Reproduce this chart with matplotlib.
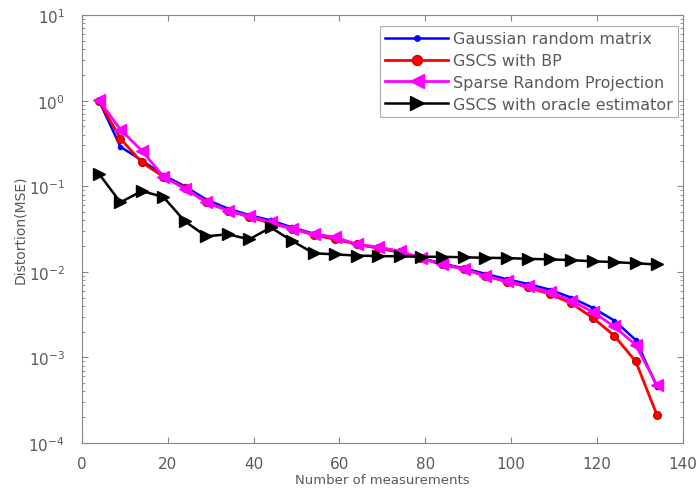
#!/usr/bin/env python3
"""Distortion (MSE) versus number of measurements for four sensing schemes."""
import matplotlib
matplotlib.use("Agg")
import matplotlib.pyplot as plt
from matplotlib.ticker import LogLocator, NullFormatter

plt.rcParams["font.family"] = ["DejaVu Sans"]

# number of measurements
measurements = [4, 9, 14, 19, 24, 29, 34, 39, 44, 49, 54, 59, 64, 69,
                74, 79, 84, 89, 94, 99, 104, 109, 114, 119, 124, 129, 134]

gaussian = [1.0, 0.29, 0.20, 0.135, 0.10, 0.07, 0.055, 0.046, 0.040, 0.033,
            0.028, 0.025, 0.021, 0.019, 0.017, 0.0145, 0.0125, 0.011, 0.0095,
            0.0082, 0.0072, 0.0062, 0.0050, 0.0038, 0.0027, 0.0016, 0.00045]

gscs_bp = [1.0, 0.36, 0.19, 0.13, 0.095, 0.065, 0.052, 0.044, 0.037, 0.032,
           0.027, 0.024, 0.021, 0.019, 0.017, 0.0145, 0.0122, 0.0108, 0.0090,
           0.0077, 0.0066, 0.0055, 0.0043, 0.0029, 0.0018, 0.0009, 0.00021]

sparse_rp = [1.02, 0.46, 0.26, 0.13, 0.094, 0.066, 0.052, 0.045, 0.038, 0.032,
             0.0275, 0.0255, 0.021, 0.0195, 0.0175, 0.0145, 0.0122, 0.0108,
             0.0089, 0.0078, 0.0068, 0.0058, 0.0046, 0.0034, 0.0023, 0.0014,
             0.00047]

oracle = [0.14, 0.065, 0.088, 0.075, 0.039, 0.026, 0.0275, 0.024, 0.033, 0.023,
          0.0165, 0.016, 0.0155, 0.0153, 0.0152, 0.015, 0.015, 0.0148, 0.0146,
          0.0145, 0.0142, 0.014, 0.0137, 0.0133, 0.013, 0.0126, 0.0122]

labels = ["Gaussian random matrix", "GSCS with BP",
          "Sparse Random Projection", "GSCS with oracle estimator"]

TEXT = "#5a5a5a"

fig = plt.figure(figsize=(6.99, 4.89), dpi=100)
ax = fig.add_axes([0.117, 0.092, 0.86, 0.875])

ax.plot(measurements, gaussian, color="#0000ff", lw=1.8, marker=".", ms=6,
        label=labels[0])
ax.plot(measurements, gscs_bp, color="#ff0000", lw=2.0, marker="o", ms=5.5,
        mfc="#ff0000", mec="#cc0000", label=labels[1])
ax.plot(measurements, sparse_rp, color="#ff00ff", lw=2.0, marker="<", ms=8,
        label=labels[2])
ax.plot(measurements, oracle, color="black", lw=1.8, marker=">", ms=8,
        label=labels[3])

ax.set_yscale("log")
ax.set_xlim(0, 140)
ax.set_ylim(1e-4, 10)
ax.set_xticks(range(0, 141, 20))
ax.yaxis.set_minor_locator(LogLocator(base=10, subs=range(2, 10), numticks=20))
ax.yaxis.set_minor_formatter(NullFormatter())

ax.tick_params(which="both", direction="in", top=True, right=True,
               colors="#888888", labelcolor=TEXT, labelsize=11)
ax.tick_params(which="major", length=4)
ax.tick_params(which="minor", length=2)
ax.tick_params(axis="x", pad=9)
ax.tick_params(axis="y", pad=12)
for s in ax.spines.values():
    s.set_color("#888888")
    s.set_linewidth(0.8)

ax.set_xlabel("Number of measurements", fontsize=9.5, color=TEXT, labelpad=2)
ax.set_ylabel("Distortion(MSE)", fontsize=10, color=TEXT, labelpad=1)

leg = ax.legend(loc="upper right", bbox_to_anchor=(0.970, 0.945),
                bbox_transform=fig.transFigure, borderaxespad=0,
                fontsize=11.5, frameon=True, fancybox=False,
                handlelength=3.9, handletextpad=0.3, labelspacing=0.42,
                borderpad=0.35, markerscale=1.3)
leg.get_frame().set_edgecolor("#999999")
leg.get_frame().set_linewidth(0.8)
for t in leg.get_texts():
    t.set_color(TEXT)

fig.savefig("out.png", dpi=100)
